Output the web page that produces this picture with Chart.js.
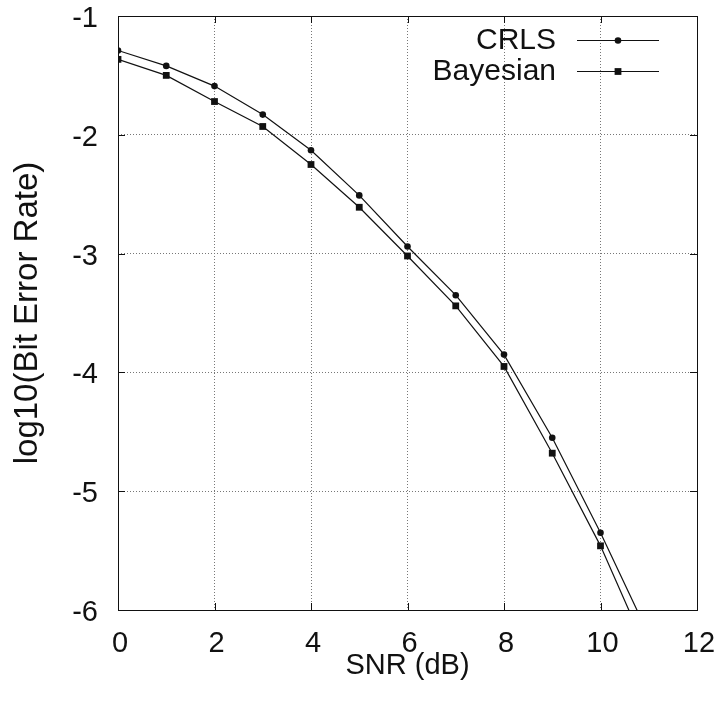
<!DOCTYPE html>
<html>
<head>
<meta charset="utf-8">
<script src="https://cdn.jsdelivr.net/npm/chart.js@4/dist/chart.umd.min.js"></script>
<style>
  html, body { margin: 0; padding: 0; background: #fff; }
  #wrap { width: 722px; height: 713px; }
</style>
</head>
<body>
<div id="wrap"><canvas id="berChart" width="722" height="713"></canvas></div>
<script>
// SNR sweep (dB) and log10 BER for both detectors
const snrDb = [0, 1, 2, 3, 4, 5, 6, 7, 8, 9, 10, 11];
const crlsBer = [-1.29, -1.42, -1.59, -1.83, -2.13, -2.51, -2.94, -3.35, -3.85, -4.55, -5.35, -6.21];
const bayesBer = [-1.365, -1.50, -1.72, -1.93, -2.25, -2.61, -3.02, -3.44, -3.95, -4.68, -5.46, -6.38];
const seriesNames = ["CRLS", "Bayesian"];

const FONT = "'Liberation Sans', Arial, Helvetica, sans-serif";
const INK = "#111";

const toXY = (ys) => snrDb.map((x, i) => ({ x, y: ys[i] }));

// gnuplot-style box round the plot with short inward ticks on all four sides
const framePlugin = {
  id: "frame",
  afterDatasetsDraw(chart) {
    const { ctx, chartArea: a, scales } = chart;
    ctx.save();
    ctx.strokeStyle = INK;
    ctx.lineWidth = 1;
    ctx.strokeRect(a.left + 0.5, a.top + 0.5, a.right - a.left, a.bottom - a.top);
    const len = 7;
    ctx.beginPath();
    scales.x.ticks.forEach((t) => {
      const px = Math.round(scales.x.getPixelForValue(t.value)) + 0.5;
      ctx.moveTo(px, a.bottom); ctx.lineTo(px, a.bottom - len);
      ctx.moveTo(px, a.top); ctx.lineTo(px, a.top + len);
    });
    scales.y.ticks.forEach((t) => {
      const py = Math.round(scales.y.getPixelForValue(t.value)) + 0.5;
      ctx.moveTo(a.left, py); ctx.lineTo(a.left + len, py);
      ctx.moveTo(a.right, py); ctx.lineTo(a.right - len, py);
    });
    ctx.stroke();
    ctx.restore();
  },
};

// key in the upper right: label, then a line sample with the marker in its middle
const keyPlugin = {
  id: "key",
  afterDraw(chart) {
    const { ctx } = chart;
    const textRight = 556, lineL = 577, lineR = 659, rowTop = 40, rowGap = 31;
    ctx.save();
    ctx.font = `30px ${FONT}`;
    ctx.textAlign = "right";
    ctx.textBaseline = "middle";
    chart.data.datasets.forEach((ds, i) => {
      const y = rowTop + i * rowGap;
      ctx.fillStyle = INK;
      ctx.fillText(ds.label, textRight, y + 1);
      ctx.strokeStyle = ds.borderColor;
      ctx.lineWidth = ds.borderWidth;
      ctx.beginPath();
      ctx.moveTo(lineL, y + 0.5);
      ctx.lineTo(lineR, y + 0.5);
      ctx.stroke();
      ctx.fillStyle = ds.pointBackgroundColor;
      Chart.helpers.drawPoint(ctx, {
        pointStyle: ds.pointStyle,
        radius: ds.pointRadius,
        borderWidth: 0,
        rotation: 0,
      }, (lineL + lineR) / 2, y + 0.5);
    });
    ctx.restore();
  },
};

const lineSet = (label, ys, style, r) => ({
  label,
  data: toXY(ys),
  borderColor: INK,
  borderWidth: 1.2,
  pointStyle: style,
  pointRadius: r,
  pointHoverRadius: r,
  pointBorderWidth: 0,
  pointBackgroundColor: INK,
  pointBorderColor: INK,
  tension: 0,
  clip: 0,
});

new Chart(document.getElementById("berChart"), {
  type: "line",
  data: {
    datasets: [
      lineSet(seriesNames[0], crlsBer, "circle", 3.3),
      lineSet(seriesNames[1], bayesBer, "rect", 4.8),
    ],
  },
  options: {
    responsive: false,
    animation: false,
    layout: { padding: { left: 0, top: 16, right: 25, bottom: 0 } },
    plugins: { legend: { display: false }, tooltip: { enabled: false } },
    scales: {
      x: {
        type: "linear",
        min: 0,
        max: 12,
        ticks: { stepSize: 2, color: INK, padding: 17, labelOffset: 2, font: { family: FONT, size: 29 } },
        grid: { color: "#777", lineWidth: 1, drawTicks: false },
        border: { display: false, dash: [1, 2] },
        title: {
          display: true,
          text: "SNR (dB)",
          color: INK,
          font: { family: FONT, size: 29 },
          padding: { top: 0, bottom: 30 },
        },
        afterFit: (s) => { s.height = 103; s.paddingLeft = 0; s.paddingRight = 0; },
      },
      y: {
        min: -6,
        max: -1,
        ticks: { stepSize: 1, color: INK, padding: 20, labelOffset: 3, font: { family: FONT, size: 29 } },
        grid: { color: "#777", lineWidth: 1, drawTicks: false },
        border: { display: false, dash: [1, 2] },
        title: {
          display: true,
          text: "log10(Bit Error Rate)",
          color: INK,
          font: { family: FONT, size: 33 },
          padding: { top: 8, bottom: 0 },
        },
        afterFit: (s) => { s.width = 118; s.paddingTop = 0; s.paddingBottom = 0; },
      },
    },
  },
  plugins: [framePlugin, keyPlugin],
});
</script>
</body>
</html>
